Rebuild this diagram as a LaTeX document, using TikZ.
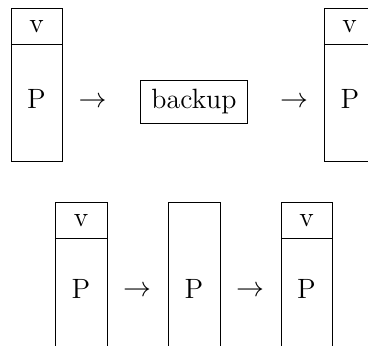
\documentclass[tikz,border=0pt]{standalone}
\begin{document}
\begin{tikzpicture}[x=0.43pt,y=-0.43pt,line width=0.4pt,
  font=\fontsize{12}{14}\selectfont,
  lbl/.style={inner sep=0pt},
  frame/.style={draw,inner xsep=4.7pt,inner ysep=4.1pt}]
\useasboundingbox (0,0) rectangle (368,346);
% top row, left stack
\draw (11,8) rectangle (62,161);
\draw (11,44) -- (62,44);
\node[lbl] (tv1) at (36.5,27) {v};
\node[lbl] (tp1) at (36.5,98.5) {P};
\node[lbl] (ta1) at (92.5,102) {$\rightarrow$};
\node[frame] (bk) at (194,102) {backup};
\node[lbl] (ta2) at (294,102) {$\rightarrow$};
% top row, right stack (cut at the edge)
\draw (368,8) -- (324,8) -- (324,161) -- (368,161);
\draw (324,44) -- (368,44);
\node[lbl] (tv2) at (349.5,27) {v};
\node[lbl] (tp2) at (350,98.5) {P};
% bottom row
\draw (55,346) -- (55,202) -- (107,202) -- (107,346);
\draw (55,238) -- (107,238);
\node[lbl] (bv1) at (81,221) {v};
\node[lbl] (bp1) at (81,289) {P};
\node[lbl] (ba1) at (137,291) {$\rightarrow$};
\draw (168,346) -- (168,202) -- (220,202) -- (220,346);
\node[lbl] (bp2) at (194,289) {P};
\node[lbl] (ba2) at (250,291) {$\rightarrow$};
\draw (281,346) -- (281,202) -- (332,202) -- (332,346);
\draw (281,238) -- (332,238);
\node[lbl] (bv3) at (306.5,221) {v};
\node[lbl] (bp3) at (306.5,289) {P};
\end{tikzpicture}
\end{document}
